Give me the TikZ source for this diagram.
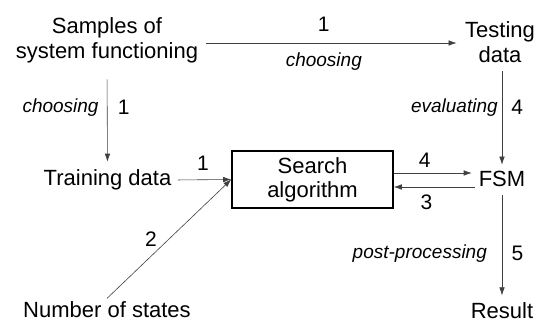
\documentclass[tikz,border=0pt]{standalone}
\usepackage{fontspec}
\setmainfont{Liberation Sans}
\usetikzlibrary{arrows.meta}

\begin{document}
\begin{tikzpicture}[x=1pt, y=-1pt,
    every node/.style={font=\fontsize{22}{25}\selectfont},
    flow/.style={-{Latex[length=8pt, width=5.5pt]}, line width=0.6pt, draw=black!75, text=black},
    lab/.style={font=\fontsize{19}{22}\selectfont\itshape},
    num/.style={font=\fontsize{21}{24}\selectfont},
    algobox/.style={draw, line width=1.6pt, minimum width=161pt, minimum height=57pt, align=center, font=\fontsize{22}{24}\selectfont}]
    \useasboundingbox (0,0) rectangle (542,323);

    % Data sources
    \node[align=center] (samples) at (107,40) {Samples of\\system functioning};
    \node[align=center] (testing) at (500,42) {Testing\\data};
    \node (training) at (107.5,180) {Training data};
    \node (states) at (107,310) {Number of states};

    % Algorithm and machine
    \node[algobox] (search) at (312.5,179.5) {Search\\algorithm};
    \node (fsm) at (502,179) {FSM};
    \node (result) at (502,310.5) {Result};

    % Choosing the data
    \draw[flow, shorten <=4pt, shorten >=5pt] ([yshift=-3pt]samples.east) -- ([yshift=-3pt]samples.east -| testing.west)
        node[pos=0.47, above=7.5pt, num] {1} node[pos=0.47, below=6.5pt, lab] {choosing};
    \draw[flow, shorten <=13pt, shorten >=4.5pt] (samples.south) -- (training.north)
        node[pos=0.41, left=5pt, lab] {choosing} node[pos=0.41, right=7pt, num] {1};

    % Inputs of the search
    \draw[flow, shorten <=3pt] (training.east) -- (search.west) node[midway, above=5.5pt, num] {1};
    \draw[flow] (states.north) -- (search.west) node[pos=0.495, left=8pt, num] {2};

    % Search loop
    \draw[flow, shorten >=3.5pt] ([yshift=6.5pt]search.east) -- ([yshift=6.5pt]search.east -| fsm.west)
        node[pos=0.38, above=1.5pt, num] {4};
    \draw[flow] ([yshift=-7.5pt]search.east -| fsm.west) -- ([yshift=-7.5pt]search.east)
        node[pos=0.6, below=4.5pt, num] {3};

    % Evaluation and result
    \draw[flow, shorten <=5pt, shorten >=3pt] (fsm |- testing.south) -- (fsm.north)
        node[pos=0.41, left=0.7pt, lab] {evaluating} node[pos=0.41, right=5.7pt, num] {4};
    \draw[flow, shorten <=4.5pt, shorten >=3.5pt] (fsm.south) -- (result.north)
        node[pos=0.58, left=11.5pt, lab] {post-processing} node[pos=0.58, right=6pt, num] {5};
\end{tikzpicture}
\end{document}
